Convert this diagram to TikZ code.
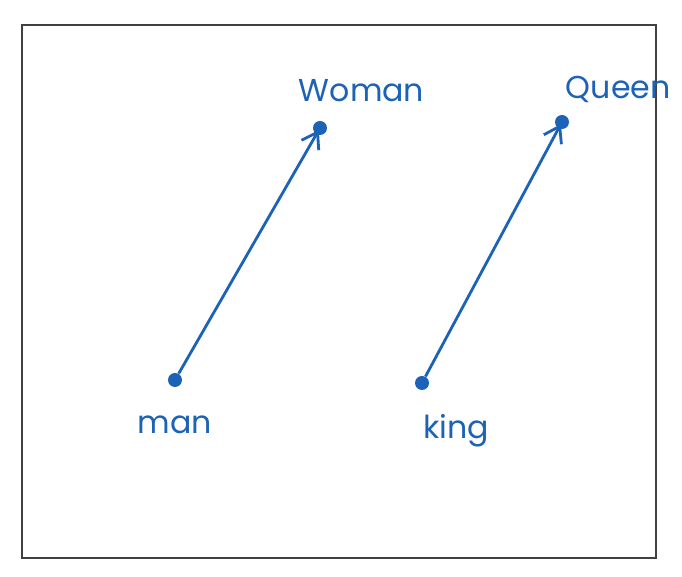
\documentclass[tikz,border=0pt]{standalone}
\usepackage{fontspec}
\setmainfont{Poppins}
\usetikzlibrary{arrows.meta,positioning}
\definecolor{ink}{RGB}{28,98,182}
\tikzset{
  word/.style={circle, fill=ink, inner sep=0pt, minimum size=2.8mm},
  wordlabel/.style={text=ink, font=\fontsize{18}{21}\selectfont},
  offset/.style={-{Straight Barb[length=3mm,width=4mm]}, ink, line width=1.6pt, shorten >=-1mm}
}
\begin{document}
\begin{tikzpicture}
\useasboundingbox (0,0) rectangle (13.64,11.54);
\draw[line width=1.4pt, black!75] (0.44,0.38) rectangle (13.12,11.04);
\node[word] (man) at (3.5,3.94) {};
\node[word] (woman) at (6.4,8.98) {};
\node[word] (king) at (8.44,3.88) {};
\node[word] (queen) at (11.24,9.1) {};
\node[wordlabel, below=0.45 of man] (manlabel) {man};
\node[wordlabel, above right=0.3 and -0.65 of woman] (womanlabel) {Woman};
\node[wordlabel, below right=0.4 and -0.2 of king] (kinglabel) {king};
\node[wordlabel, above right=0.15 and -0.15 of queen] (queenlabel) {Queen};
\draw[offset] (man) -- (woman);
\draw[offset] (king) -- (queen);
\end{tikzpicture}
\end{document}
